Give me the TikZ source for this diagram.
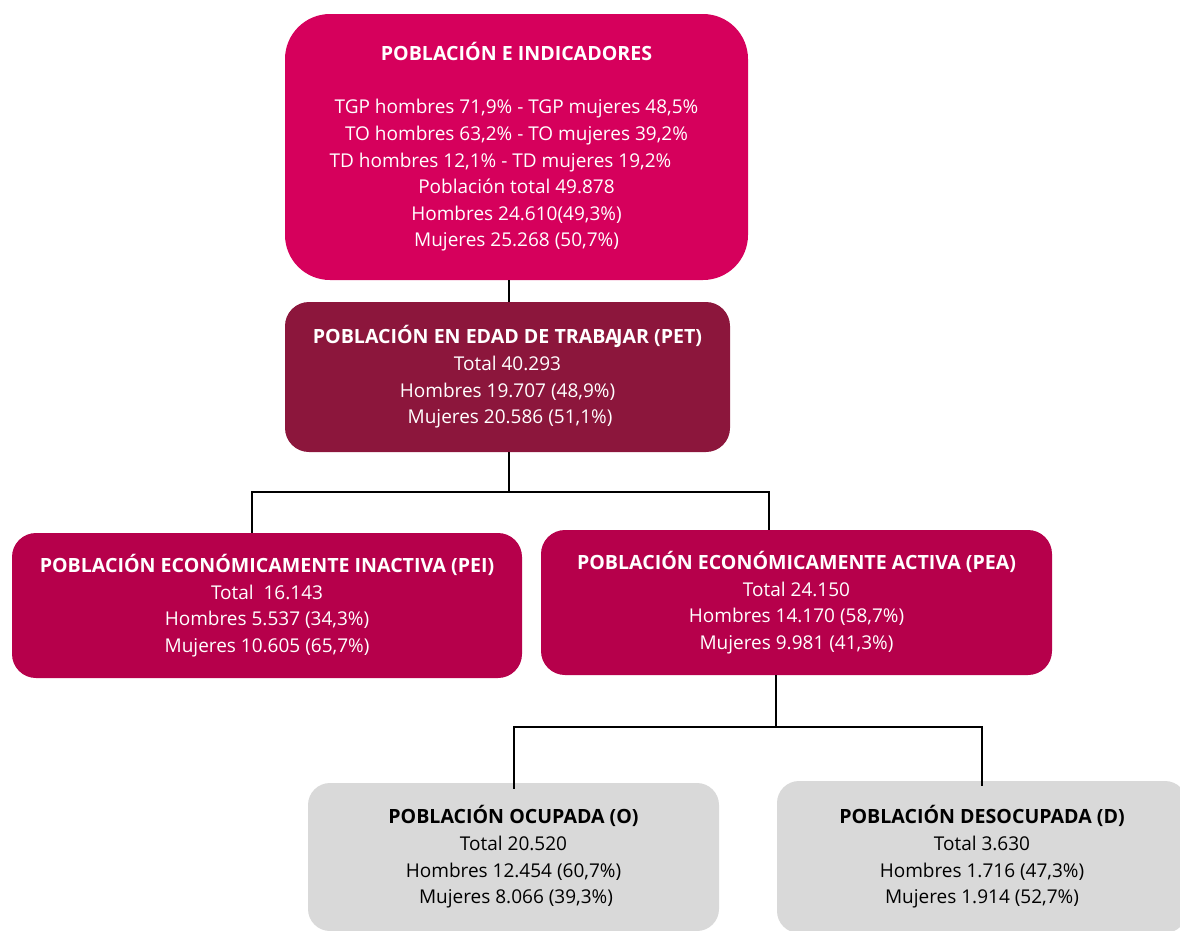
\documentclass[tikz,border=0pt]{standalone}
\usepackage{fontspec}
\setmainfont{Open Sans}
\definecolor{cTop}{RGB}{214,0,92}
\definecolor{cPet}{RGB}{140,22,60}
\definecolor{cPea}{RGB}{182,0,75}
\definecolor{cGrey}{RGB}{217,217,217}
\newcommand{\ttl}[1]{{\fontsize{19.6}{26.6}\selectfont\bfseries #1}}
\tikzset{
  box/.style={rectangle, align=center, inner sep=0pt, text=white,
    font=\fontsize{19}{26.6}\selectfont},
  conn/.style={draw=black, line width=1.4pt},
}
\begin{document}
\begin{tikzpicture}[x=1pt,y=-1pt]
\useasboundingbox (0,0) rectangle (1180,930);
\clip (0,0) rectangle (1180,930);
\node[box, fill=cTop, rounded corners=45pt, minimum width=463pt, minimum height=266pt] (top) at (516.5,147)
 {\ttl{POBLACIÓN E INDICADORES}\\[26.6pt]
  TGP hombres 71,9\% - TGP mujeres 48,5\%\\
  TO hombres 63,2\% - TO mujeres 39,2\%\\
  TD hombres 12,1\% - TD mujeres 19,2\%\hphantom{\hspace{32pt}}\\
  Población total 49.878\\
  Hombres 24.610(49,3\%)\\
  Mujeres 25.268 (50,7\%)};
\node[box, fill=cPet, rounded corners=24pt, minimum width=445pt, minimum height=150pt] (pet) at (507.5,377)
 {\ttl{POBLACIÓN EN EDAD DE TRABA\kern-2.5pt JAR (PET)}\\
  Total 40.293\\
  Hombres 19.707 (48,9\%)\\
  \hspace*{5pt}Mujeres 20.586 (51,1\%)};
\node[box, fill=cPea, rounded corners=24pt, minimum width=510pt, minimum height=145pt] (pei) at (267,605.5)
 {\ttl{POBLACIÓN ECONÓMICAMENTE INACTIVA (PEI)}\\
  Total\ \ 16.143\\
  Hombres 5.537 (34,3\%)\\
  Mujeres 10.605 (65,7\%)};
\node[box, fill=cPea, rounded corners=24pt, minimum width=511pt, minimum height=145pt] (pea) at (796.5,602.5)
 {\ttl{POBLACIÓN ECONÓMICAMENTE ACTIVA (PEA)}\\
  Total 24.150\\
  Hombres 14.170 (58,7\%)\\
  Mujeres 9.981 (41,3\%)};
\node[box, fill=cGrey, text=black, rounded corners=22pt, minimum width=411pt, minimum height=148pt] (ocu) at (513.5,857)
 {\ttl{POBLACIÓN OCUPADA (O)}\\
  Total 20.520\\
  Hombres 12.454 (60,7\%)\\
  \hspace*{5pt}Mujeres 8.066 (39,3\%)};
\node[box, fill=cGrey, text=black, rounded corners=22pt, minimum width=410pt, minimum height=152pt] (des) at (982,857)
 {\ttl{POBLACIÓN DESOCUPADA (D)}\\
  Total 3.630\\
  Hombres 1.716 (47,3\%)\\
  Mujeres 1.914 (52,7\%)};
% connectors
\coordinate (j1) at (509,492);
\draw[conn] (top.south -| j1) -- (pet.north -| j1);
\draw[conn] (pet.south -| j1) -- (j1);
\draw[conn] (pei.north -| 252,0) |- (j1) -| (pea.north -| 769,0);
\coordinate (j2) at (776,727);
\draw[conn] (pea.south -| j2) -- (j2);
\draw[conn] ([yshift=-6pt]ocu.north -| 514,0) |- (j2) -| ([yshift=-5pt]des.north -| 982,0);
\end{tikzpicture}
\end{document}
